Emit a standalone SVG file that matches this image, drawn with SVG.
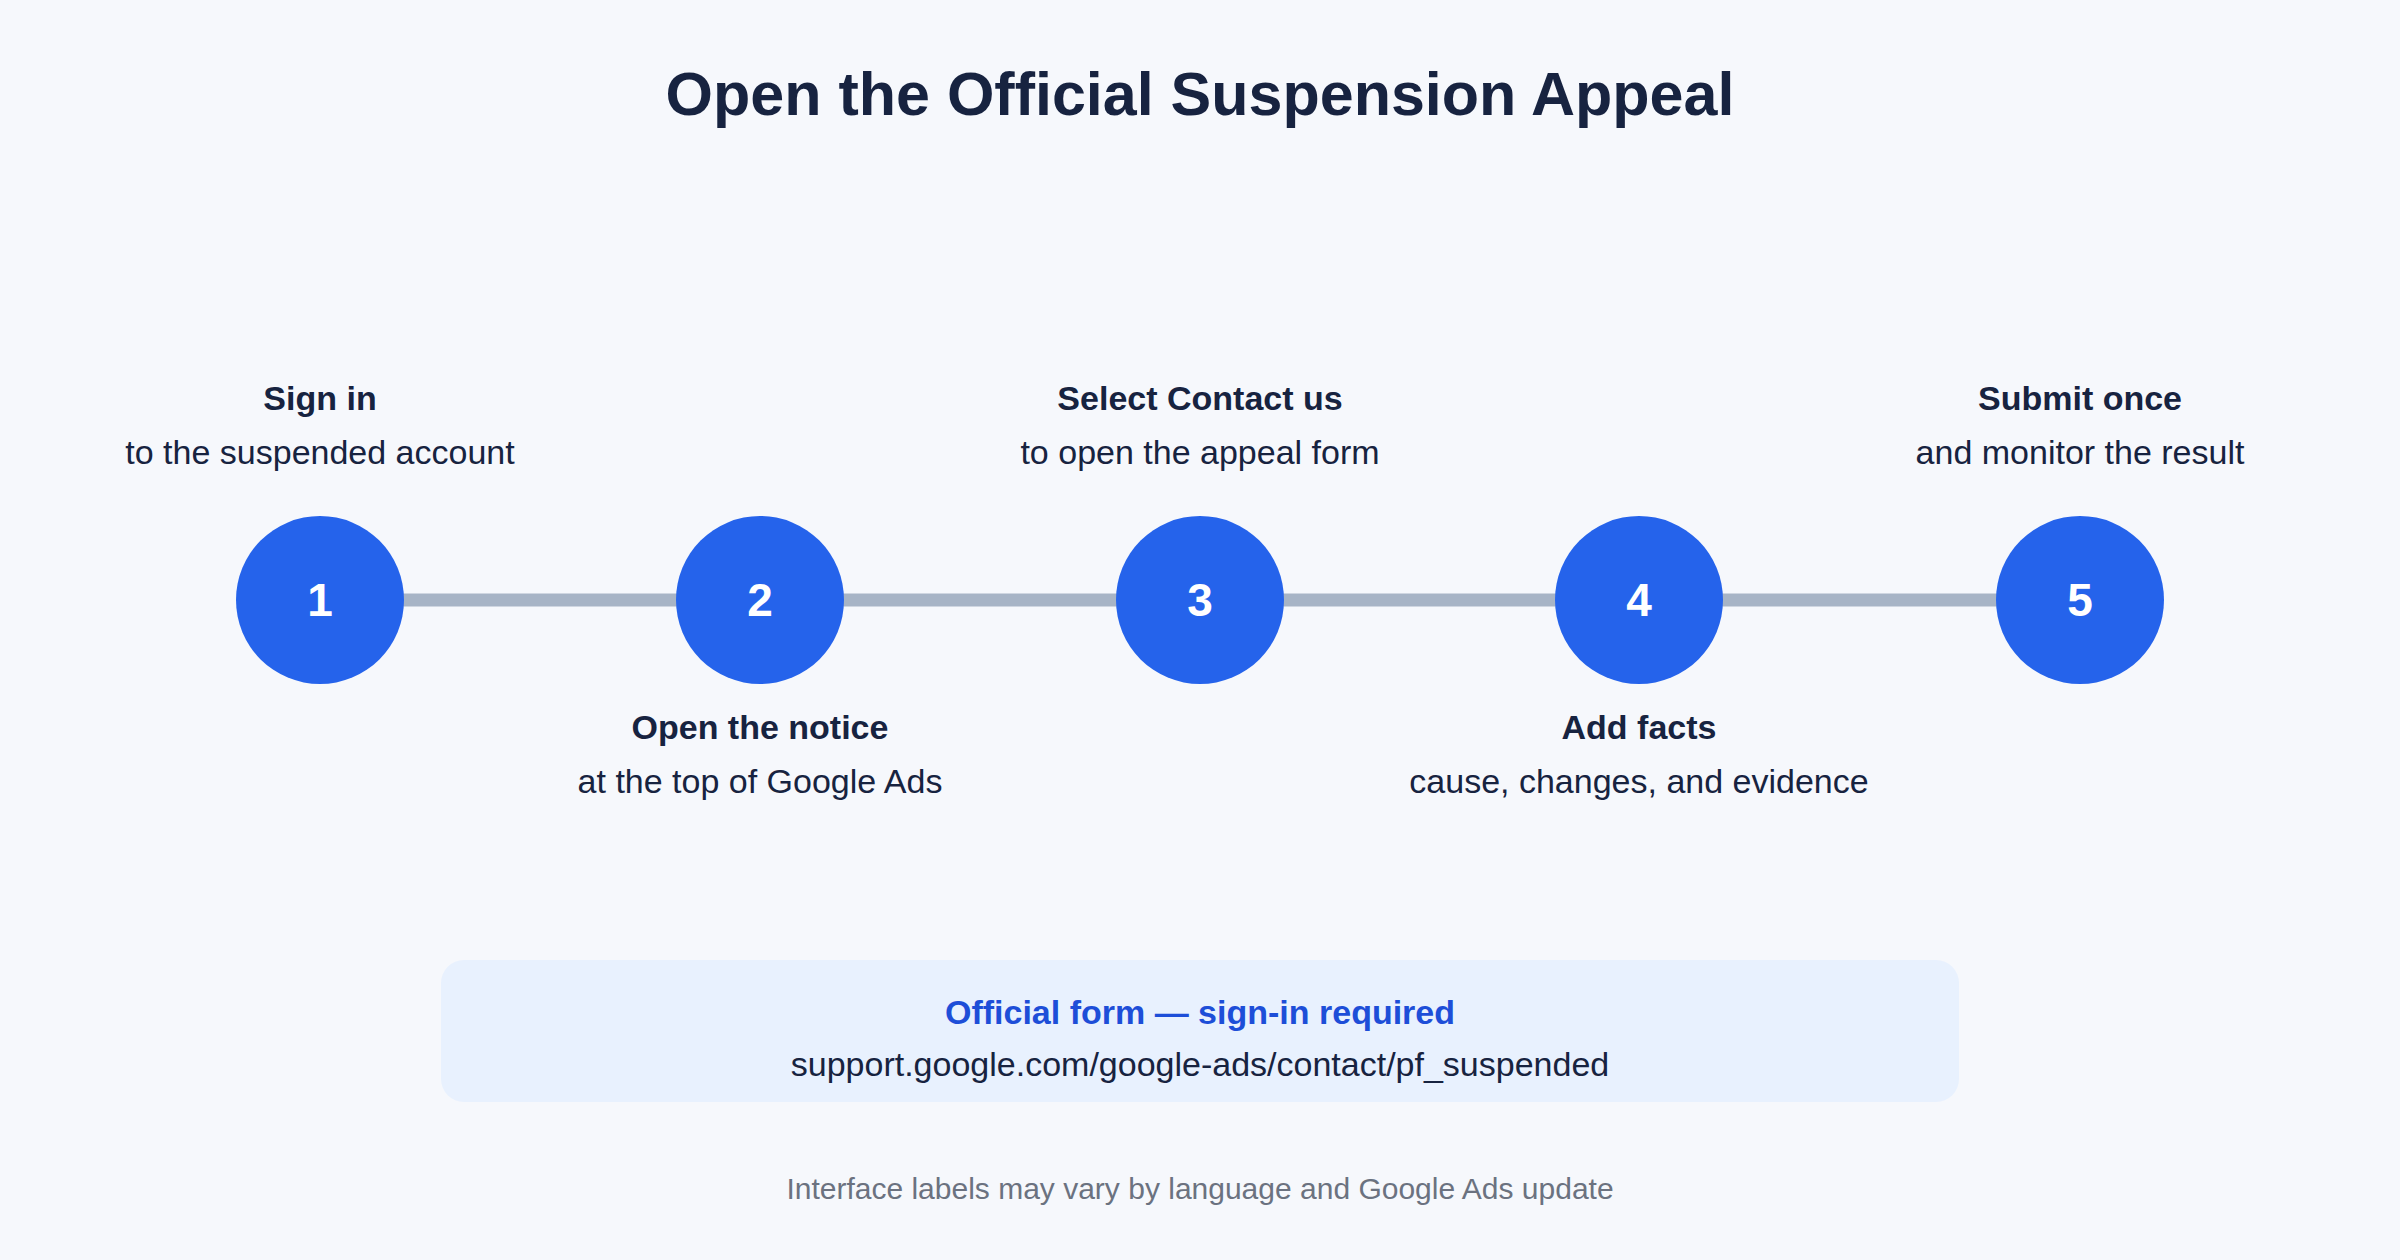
<svg xmlns="http://www.w3.org/2000/svg" width="2400" height="1260" viewBox="0 0 2400 1260">
<style>
text{font-family:"Liberation Sans",Arial,sans-serif;text-anchor:middle}
.t{font-size:61px;font-weight:bold;fill:#172340}
.b{font-size:34px;font-weight:bold;fill:#172340}
.n{font-size:34px;fill:#172340}
.num{font-size:46px;font-weight:bold;fill:#fff}
.c{fill:#2563eb}
</style>
<rect width="2400" height="1260" fill="#f6f8fc"/>
<text class="t" x="1200" y="115">Open the Official Suspension Appeal</text>
<g id="connectors"><line x1="320" y1="600" x2="2080" y2="600" stroke="#a7b4c6" stroke-width="13"/></g>
<g id="step1"><circle class="c" cx="320" cy="600" r="84"/><text class="num" x="320" y="616">1</text>
<text class="b" x="320" y="410">Sign in</text><text class="n" x="320" y="464">to the suspended account</text></g>
<g id="step2"><circle class="c" cx="760" cy="600" r="84"/><text class="num" x="760" y="616">2</text>
<text class="b" x="760" y="739">Open the notice</text><text class="n" x="760" y="793">at the top of Google Ads</text></g>
<g id="step3"><circle class="c" cx="1200" cy="600" r="84"/><text class="num" x="1200" y="616">3</text>
<text class="b" x="1200" y="410">Select Contact us</text><text class="n" x="1200" y="464">to open the appeal form</text></g>
<g id="step4"><circle class="c" cx="1639" cy="600" r="84"/><text class="num" x="1639" y="616">4</text>
<text class="b" x="1639" y="739">Add facts</text><text class="n" x="1639" y="793">cause, changes, and evidence</text></g>
<g id="step5"><circle class="c" cx="2080" cy="600" r="84"/><text class="num" x="2080" y="616">5</text>
<text class="b" x="2080" y="410">Submit once</text><text class="n" x="2080" y="464">and monitor the result</text></g>
<g id="form"><rect x="441" y="960" width="1518" height="142" rx="23" fill="#e8f1fe"/>
<text class="b" x="1200" y="1024" fill="#1d4ed8" style="fill:#1d4ed8">Official form — sign-in required</text>
<text class="n" x="1200" y="1076">support.google.com/google-ads/contact/pf_suspended</text></g>
<text x="1200" y="1199" style="font-size:30px;fill:#6b7280">Interface labels may vary by language and Google Ads update</text>
</svg>
